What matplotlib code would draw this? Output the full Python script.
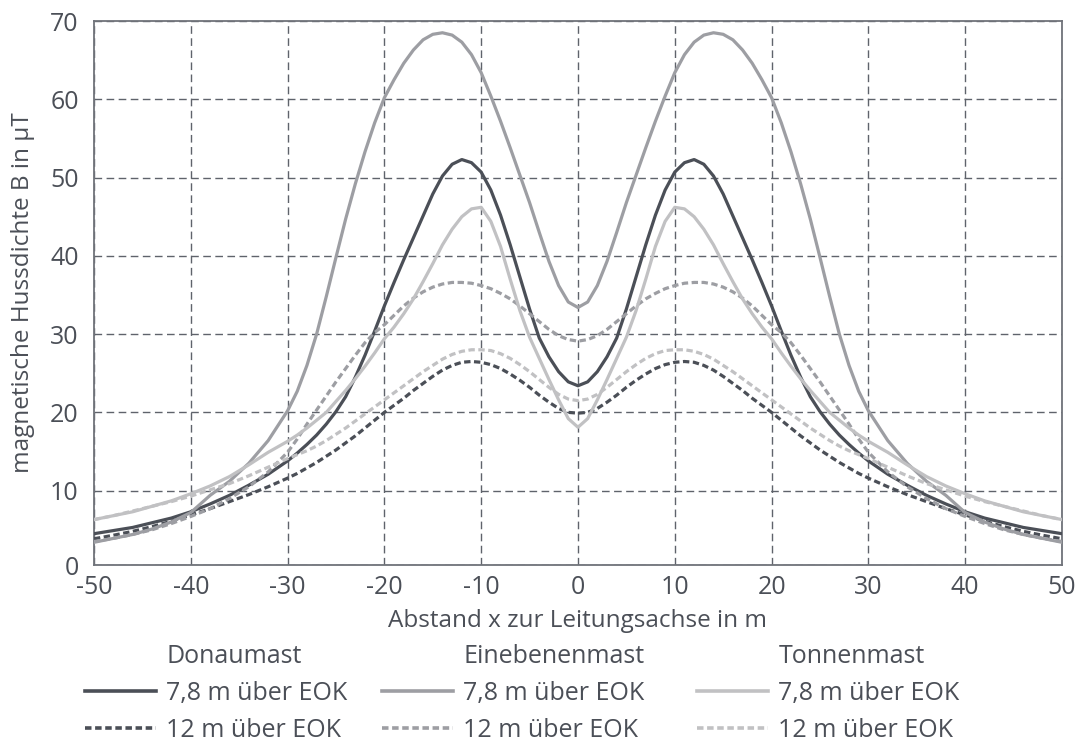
import numpy as np
import matplotlib
matplotlib.use("Agg")
import matplotlib.pyplot as plt
from matplotlib.lines import Line2D

plt.rcParams['font.family'] = ['Open Sans', 'DejaVu Sans']

# half-profile (x >= 0); curves are symmetric about the line axis
x_half = [0, 1, 2, 3, 4, 5, 6, 7, 8, 9, 10, 11, 12, 13, 14, 15, 16, 17, 18, 19, 20,
          21, 22, 23, 24, 25, 26, 27, 28, 29, 30, 32, 34, 36, 38, 40, 42, 44, 46, 48, 50]

donau_78 = [23.4, 23.9, 25.2, 27.1, 29.5, 33.2, 37.3, 41.4, 45.2, 48.4, 50.7, 51.9, 52.3, 51.7,
            50.2, 47.9, 45.1, 42.3, 39.5, 36.6, 33.6, 30.4, 27.3, 24.5, 22.0, 20.1, 18.5, 17.1,
            15.9, 14.8, 13.8, 12.1, 10.7, 9.4, 8.3, 7.3, 6.5, 5.9, 5.3, 4.9, 4.5]
donau_12 = [19.9, 20.0, 20.5, 21.3, 22.2, 23.2, 24.1, 24.9, 25.6, 26.1, 26.4, 26.5, 26.4, 26.0,
            25.4, 24.6, 23.7, 22.8, 21.8, 20.9, 20.0, 19.0, 18.0, 17.0, 16.1, 15.2, 14.4, 13.6,
            12.9, 12.2, 11.6, 10.5, 9.5, 8.6, 7.7, 6.9, 6.1, 5.4, 4.8, 4.3, 3.85]
eben_78 = [33.4, 34.1, 36.2, 39.3, 43.0, 46.8, 50.3, 53.8, 57.2, 60.4, 63.4, 65.7, 67.3, 68.2,
           68.5, 68.3, 67.6, 66.3, 64.6, 62.5, 60.2, 57.0, 53.3, 49.2, 44.7, 39.8, 34.8, 30.0,
           26.0, 22.7, 20.2, 16.4, 13.5, 11.2, 9.4, 7.2, 6.0, 5.1, 4.4, 3.9, 3.4]
eben_12 = [29.1, 29.3, 29.8, 30.6, 31.6, 32.6, 33.6, 34.5, 35.2, 35.8, 36.2, 36.5, 36.6, 36.6,
           36.4, 36.0, 35.4, 34.6, 33.6, 32.4, 31.2, 30.2, 28.9, 27.3, 25.6, 23.9, 22.1, 20.3,
           18.5, 16.6, 14.9, 12.4, 10.5, 9.0, 7.7, 6.7, 5.8, 5.0, 4.4, 3.9, 3.5]
tonne_78 = [18.1, 19.2, 21.6, 24.2, 26.9, 29.6, 33.0, 37.0, 41.2, 44.4, 46.2, 46.0, 45.0, 43.4,
            41.4, 39.0, 36.7, 34.5, 32.6, 30.9, 29.4, 27.6, 25.9, 24.3, 22.8, 21.4, 20.0, 19.0,
            18.0, 17.1, 16.3, 14.9, 13.3, 11.8, 10.6, 9.6, 8.7, 8.0, 7.3, 6.8, 6.3]
tonne_12 = [21.5, 21.7, 22.3, 23.2, 24.2, 25.2, 26.1, 26.9, 27.5, 27.9, 28.0, 28.0, 27.8, 27.4,
            26.8, 26.0, 25.2, 24.3, 23.4, 22.5, 21.6, 20.7, 19.8, 18.9, 18.0, 17.2, 16.4, 15.7,
            15.1, 14.6, 14.1, 13.0, 11.9, 10.9, 10.1, 9.3, 8.6, 8.0, 7.4, 6.8, 6.3]

masts = ["Donaumast", "Einebenenmast", "Tonnenmast"]
height_labels = ["7,8 m über EOK", "12 m über EOK"]
x_ticks = [-50, -40, -30, -20, -10, 0, 10, 20, 30, 40, 50]
y_ticks = [0, 10, 20, 30, 40, 50, 60, 70]
x_label = "Abstand x zur Leitungsachse in m"
y_label = "magnetische Hussdichte B in µT"


def full(vals):
    xh = np.array(x_half, dtype=float)
    v = np.array(vals, dtype=float)
    return np.concatenate([-xh[:0:-1], xh]), np.concatenate([v[:0:-1], v])


c_dark = "#4b4f57"
c_mid = "#9d9ea3"
c_light = "#c1c1c3"
txt = "#4b4f57"
grid_c = "#5f636b"

fig = plt.figure(figsize=(10.85, 7.45), dpi=100)
ax = fig.add_axes([0.0866, 0.2416, 0.8922, 0.7302])

series = [
    (donau_78, c_dark, '-'), (donau_12, c_dark, '--'),
    (eben_78, c_mid, '-'), (eben_12, c_mid, '--'),
    (tonne_78, c_light, '-'), (tonne_12, c_light, '--'),
]
handles = []
for vals, col, ls in series:
    xs, ys = full(vals)
    if ls == '-':
        ln, = ax.plot(xs, ys, color=col, lw=2.3, solid_joinstyle='round',
                      solid_capstyle='round', zorder=3)
    else:
        ln, = ax.plot(xs, ys, color=col, lw=2.3, dashes=(2.0, 1.1),
                      dash_joinstyle='round', zorder=3)
    handles.append(ln)

# the reference's x axis line sits slightly above the 0 value
y_bottom = 0.5
ax.set_xlim(-50, 50)
ax.set_ylim(y_bottom, 70)
ax.set_xticks(x_ticks)
ax.set_xticklabels([str(t) for t in x_ticks])
ax.set_yticks([y_bottom] + y_ticks[1:])
ax.set_yticklabels([str(t) for t in y_ticks])
ax.tick_params(axis='both', length=0, labelsize=18, colors=txt)
ax.tick_params(axis='y', pad=11)
ax.tick_params(axis='x', pad=7)
ax.grid(True, color=grid_c, lw=1.0, dashes=(5.5, 3.2))
for s in ax.spines.values():
    s.set_color("#70737a")
    s.set_linewidth(1.3)
ax.set_axisbelow(True)
ax.set_xlabel(x_label, fontsize=17.5, color=txt, labelpad=7)
ax.set_ylabel(y_label, fontsize=17.5, color=txt, labelpad=11)

# legend: three columns, each with a header
col_x = [0.0783, 0.352, 0.6424]
for i, name in enumerate(masts):
    blank = Line2D([], [], color='none')
    h78 = Line2D([], [], color=handles[2 * i].get_color(), lw=2.6)
    h12 = Line2D([], [], color=handles[2 * i + 1].get_color(), lw=2.6, dashes=(1.8, 1.0))
    fig.legend([blank, h78, h12], [name] + height_labels,
               loc='upper left', bbox_to_anchor=(col_x[i], 0.1356),
               frameon=False, fontsize=18, handlelength=2.85, handletextpad=0.4,
               borderpad=0, borderaxespad=0, labelspacing=0.48, labelcolor=txt)

fig.savefig("out.png", dpi=100)
